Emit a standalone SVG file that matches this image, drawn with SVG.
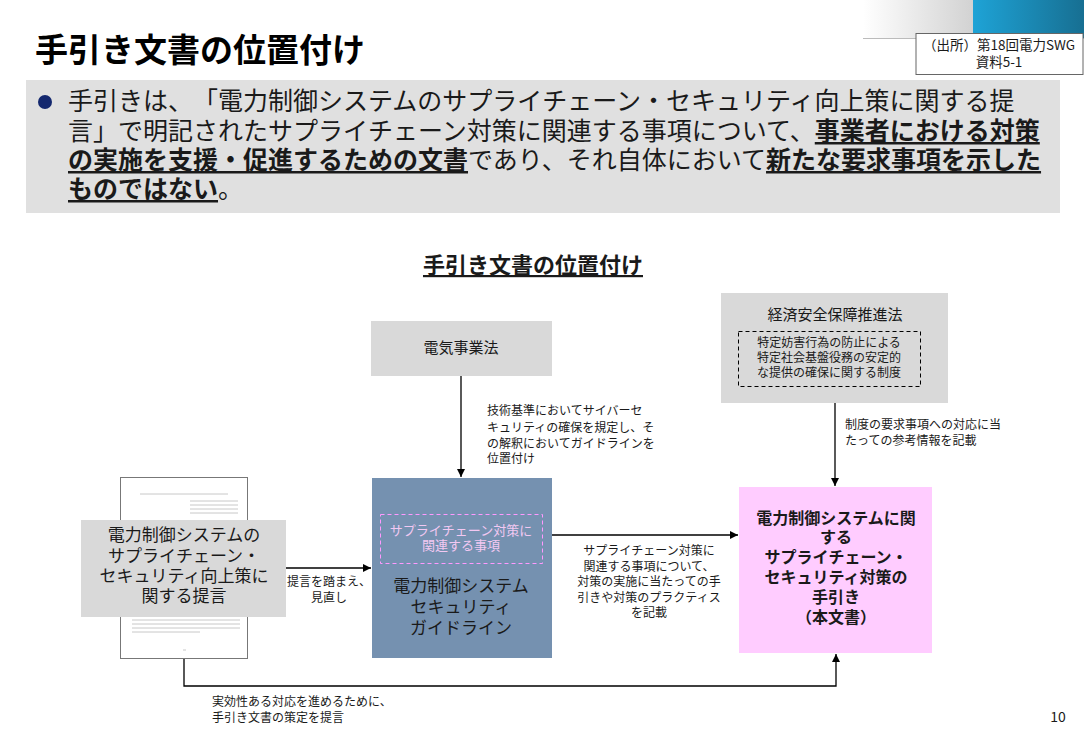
<svg xmlns="http://www.w3.org/2000/svg" width="1084" height="750" viewBox="0 0 1084 750">
<defs>
<linearGradient id="hdrL" x1="0" y1="0" x2="1" y2="0">
<stop offset="0" stop-color="#ffffff"/>
<stop offset="1" stop-color="#d2d2d2"/>
</linearGradient>
<linearGradient id="hdrR" x1="0" y1="0" x2="1" y2="0">
<stop offset="0" stop-color="#1ea3d6"/>
<stop offset="1" stop-color="#176f92"/>
</linearGradient>
<marker id="arr" viewBox="0 0 10 10" refX="10" refY="5" markerWidth="8" markerHeight="8" markerUnits="userSpaceOnUse" orient="auto">
<path d="M0,0 L10,5 L0,10 z" fill="#000"/>
</marker>
<style>
text{font-family:"Noto Sans CJK JP","Noto Sans",sans-serif;fill:#1a1a1a;text-spacing-trim:space-all}
.c{text-anchor:middle}
.s12{font-size:12px}
.s13{font-size:13px}
.s15{font-size:15px}
.s17{font-size:17px}
.b{font-weight:bold}
.u{text-decoration:underline}
.gray{fill:#d9d9d9}
.line{stroke:#000;stroke-width:1.3;fill:none}
</style>
</defs>
<rect width="1084" height="750" fill="#fff"/>
<!-- header -->
<g id="header">
<rect x="863" y="0" width="110" height="38" fill="url(#hdrL)"/>
<rect x="973" y="0" width="111" height="38" fill="url(#hdrR)"/>
<line x1="863" y1="38.5" x2="1084" y2="38.5" stroke="#bbb" stroke-width="1"/>
<rect x="916" y="33.5" width="167" height="41" fill="#fff" stroke="#666" stroke-width="1"/>
<text class="c" x="999" y="50" style="font-size:13.5px">（出所）第18回電力SWG<tspan x="999" dy="17">資料5-1</tspan></text>
<text x="35" y="62" style="font-size:33px;font-weight:bold;fill:#000">手引き文書の位置付け</text>
</g>
<!-- summary band -->
<g id="summary">
<rect x="26" y="80" width="1034" height="133" fill="#e0e0e0"/>
<circle cx="45" cy="102" r="7" fill="#14286e"/>
<text x="68" y="110" style="font-size:25px">手引きは、「電力制御システムのサプライチェーン・セキュリティ向上策に関する提<tspan x="68" dy="30">言」で明記されたサプライチェーン対策に関連する事項について、</tspan><tspan class="b u">事業者における対策</tspan><tspan x="68" dy="29" class="b u">の実施を支援・促進するための文書</tspan><tspan>であり、それ自体において</tspan><tspan class="b u">新たな要求事項を示した</tspan><tspan x="68" dy="29" class="b u">ものではない</tspan><tspan>。</tspan></text>
</g>
<text class="c b u" x="533" y="273" style="font-size:22px">手引き文書の位置付け</text>
<!-- connectors -->
<g id="connectors">
<line class="line" x1="461" y1="376" x2="461" y2="477" marker-end="url(#arr)"/>
<line class="line" x1="835" y1="403" x2="835" y2="486" marker-end="url(#arr)"/>
<line class="line" x1="286" y1="568" x2="371" y2="568" marker-end="url(#arr)"/>
<line class="line" x1="543" y1="535" x2="738" y2="535" marker-end="url(#arr)"/>
<polyline class="line" points="184,658 184,686 836,686 836,654" marker-end="url(#arr)"/>
<text class="s12" x="487" y="415">技術基準においてサイバーセ<tspan x="487" dy="16.5">キュリティの確保を規定し、そ</tspan><tspan x="487" dy="16">の解釈においてガイドラインを</tspan><tspan x="487" dy="15.5">位置付け</tspan></text>
<text class="s12" x="845" y="429">制度の要求事項への対応に当<tspan x="845" dy="16">たっての参考情報を記載</tspan></text>
<text class="c s12" x="329" y="586">提言を踏まえ、<tspan x="329" dy="16">見直し</tspan></text>
<text class="c s12" x="649" y="555">サプライチェーン対策に<tspan x="649" dy="15.5">関連する事項について、</tspan><tspan x="649" dy="15.5">対策の実施に当たっての手</tspan><tspan x="649" dy="15.5">引きや対策のプラクティス</tspan><tspan x="649" dy="15">を記載</tspan></text>
<text class="s12" x="212" y="706">実効性ある対応を進めるために、<tspan x="212" dy="16">手引き文書の策定を提言</tspan></text>
</g>
<!-- nodes -->
<g id="denki">
<rect class="gray" x="371" y="321" width="181" height="55"/>
<text class="c s15" x="461" y="353">電気事業法</text>
</g>
<g id="keizai">
<rect class="gray" x="721" y="293" width="227" height="110"/>
<text class="c s15" x="835" y="320">経済安全保障推進法</text>
<rect x="738.5" y="331.5" width="182" height="55" fill="none" stroke="#000" stroke-width="1" stroke-dasharray="4,3"/>
<text class="c s12" x="829" y="347">特定妨害行為の防止による<tspan x="829" dy="15">特定社会基盤役務の安定的</tspan><tspan x="829" dy="15">な提供の確保に関する制度</tspan></text>
</g>
<g id="teigen">
<rect x="120.5" y="477.5" width="127" height="181" fill="#fff" stroke="#777" stroke-width="1"/>
<g stroke="#c8c8c8" stroke-width="1">
<line x1="140" y1="494" x2="228" y2="494"/>
<line x1="190" y1="501" x2="238" y2="501"/>
<line x1="190" y1="505" x2="238" y2="505"/>
<line x1="190" y1="509" x2="238" y2="509"/>
<line x1="190" y1="513" x2="238" y2="513"/>
<line x1="132" y1="620" x2="240" y2="620"/>
<line x1="132" y1="624" x2="240" y2="624"/>
<line x1="132" y1="628" x2="240" y2="628"/>
<line x1="132" y1="632" x2="200" y2="632"/>
<line x1="183" y1="650" x2="186" y2="650"/>
</g>
<rect class="gray" x="81" y="520" width="205" height="97"/>
<text class="c s17" x="184" y="541">電力制御システムの<tspan x="184" dy="21">サプライチェーン・</tspan><tspan x="184" dy="20">セキュリティ向上策に</tspan><tspan x="184" dy="20">関する提言</tspan></text>
</g>
<g id="guideline">
<rect x="372" y="478" width="180" height="180" fill="#7591b0"/>
<rect x="380.5" y="514.5" width="162" height="49" fill="none" stroke="#ff99ff" stroke-width="1" stroke-dasharray="4,3"/>
<text class="c s13" x="461" y="535" style="fill:#f2c8f2">サプライチェーン対策に<tspan x="461" dy="15">関連する事項</tspan></text>
<text class="c s17" x="461" y="592">電力制御システム<tspan x="461" dy="21">セキュリティ</tspan><tspan x="461" dy="21">ガイドライン</tspan></text>
</g>
<g id="tebiki">
<rect x="739" y="487" width="193" height="166" fill="#ffccff"/>
<text class="c b" x="836" y="524" style="font-size:16px">電力制御システムに関<tspan x="836" dy="19">する</tspan><tspan x="836" dy="20">サプライチェーン・</tspan><tspan x="836" dy="20">セキュリティ対策の</tspan><tspan x="836" dy="20">手引き</tspan><tspan x="836" dy="20">（本文書）</tspan></text>
</g>
<text x="1058" y="722" style="font-size:14px;text-anchor:middle">10</text>
</svg>
